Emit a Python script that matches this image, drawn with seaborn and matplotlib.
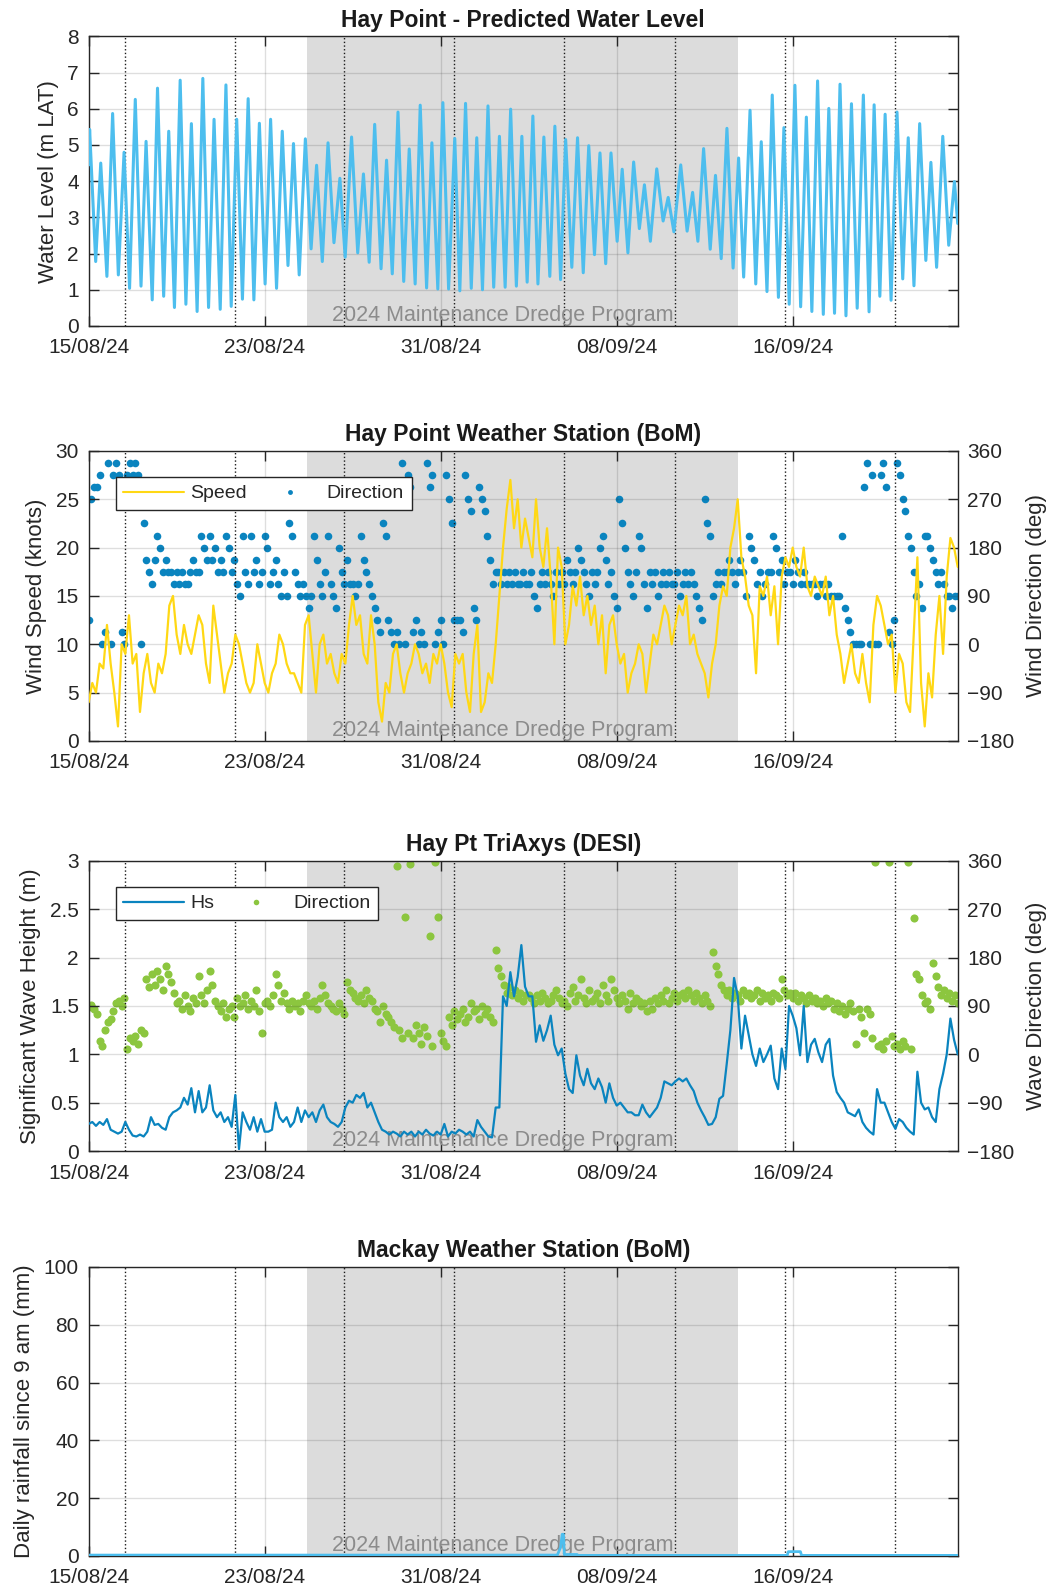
import numpy as np
import pandas as pd
import seaborn as sns
import matplotlib.pyplot as plt
import matplotlib.dates as mdates
from matplotlib.lines import Line2D
from matplotlib.ticker import FormatStrFormatter

# ---- time frame ----
start = pd.Timestamp('2024-08-15 00:00')
end = start + pd.Timedelta(days=39.5)
dredge_start = start + pd.Timedelta(days=9.93)
dredge_end = start + pd.Timedelta(days=29.5)
event_days = [1.65, 6.65, 11.62, 16.62, 21.62, 26.63, 31.64, 36.64]
tick_dates = ['2024-08-15', '2024-08-23', '2024-08-31', '2024-09-08', '2024-09-16']

# ---- predicted water level: high / low waters (days since 15/08, m LAT) ----
tide_day = [0.0, 0.045, 0.32, 0.55, 0.83, 1.09, 1.35, 1.61, 1.86, 2.12,
            2.38, 2.61, 2.89, 3.13, 3.41, 3.64, 3.90, 4.16, 4.42, 4.67,
            4.93, 5.19, 5.45, 5.70, 5.98, 6.24, 6.48, 6.73, 6.99, 7.25,
            7.51, 7.76, 8.02, 8.27, 8.54, 8.80, 9.06, 9.31, 9.57, 9.85,
            10.11, 10.36, 10.62, 10.88, 11.15, 11.42, 11.66, 11.95, 12.23, 12.49,
            12.75, 13.00, 13.29, 13.54, 13.80, 14.06, 14.32, 14.57, 14.84, 15.07,
            15.36, 15.60, 15.87, 16.10, 16.36, 16.64, 16.87, 17.13, 17.39, 17.64,
            17.90, 18.15, 18.41, 18.67, 18.93, 19.18, 19.44, 19.69, 19.93, 20.19,
            20.42, 20.69, 20.96, 21.19, 21.45, 21.68, 21.96, 22.22, 22.48, 22.73,
            22.99, 23.24, 23.50, 23.74, 24.02, 24.25, 24.51, 24.77, 25.03, 25.26,
            25.53, 25.82, 26.11, 26.34, 26.60, 26.91, 27.20, 27.45, 27.69, 27.95,
            28.25, 28.49, 28.75, 29.01, 29.29, 29.54, 29.77, 30.06, 30.32, 30.57,
            30.83, 31.07, 31.35, 31.60, 31.84, 32.10, 32.36, 32.62, 32.87, 33.13,
            33.39, 33.64, 33.90, 34.15, 34.42, 34.67, 34.93, 35.21, 35.47, 35.70,
            35.96, 36.20, 36.47, 36.74, 37.00, 37.25, 37.51, 37.77, 38.05, 38.28,
            38.54, 38.82, 39.09, 39.35, 39.50]
tide_level = [4.45, 5.43, 1.78, 4.5, 1.37, 5.87, 1.41, 4.8, 1.04, 6.26,
              1.1, 5.1, 0.72, 6.57, 0.82, 5.38, 0.51, 6.79, 0.6, 5.59,
              0.4, 6.84, 0.51, 5.71, 0.46, 6.66, 0.54, 5.71, 0.74, 6.28,
              0.72, 5.6, 1.16, 5.71, 1.04, 5.38, 1.67, 5.04, 1.41, 5.17,
              2.13, 4.44, 1.78, 5.06, 2.3, 4.08, 1.9, 5.22, 2.02, 4.2,
              1.76, 5.57, 1.58, 4.58, 1.44, 5.91, 1.23, 4.89, 1.16, 6.1,
              1.05, 5.06, 1.02, 6.17, 1.02, 5.18, 0.97, 6.15, 1.04, 5.2,
              1.0, 6.08, 1.07, 5.24, 1.07, 5.99, 1.1, 5.24, 1.21, 5.8,
              1.16, 5.22, 1.37, 5.52, 1.28, 5.15, 1.62, 5.2, 1.47, 4.98,
              1.97, 4.78, 1.72, 4.78, 2.34, 4.33, 2.02, 4.53, 2.69, 3.9,
              2.34, 4.34, 2.9, 3.55, 2.6, 4.45, 2.62, 3.69, 2.34, 4.9,
              2.12, 4.16, 1.86, 5.46, 1.6, 4.64, 1.35, 5.96, 1.16, 5.09,
              0.95, 6.38, 0.79, 5.48, 0.6, 6.65, 0.53, 5.77, 0.4, 6.77,
              0.32, 6.01, 0.35, 6.68, 0.28, 6.14, 0.49, 6.38, 0.39, 6.11,
              0.82, 5.85, 0.71, 5.91, 1.3, 5.2, 1.11, 5.59, 1.81, 4.52,
              1.62, 5.24, 2.23, 3.99, 2.83]

# ---- wind speed (knots), 4-hourly ----
wind_speed = [4, 6, 5, 8, 7.5, 12,   8, 5, 1.5, 10, 9, 13,   8, 9, 3, 7, 9, 6,
              5, 8, 7, 9, 14, 15,   11, 9, 12, 10, 9, 11,   13, 12, 8, 6, 14, 11,
              8, 5, 7, 8, 11, 10,   8, 6, 5, 6, 10, 8,   6, 5, 7, 8, 11, 10,
              8, 7, 7, 6, 5, 12,   13, 9, 5, 10, 11, 8,   9, 7, 6, 9, 8, 12,
              15, 12, 13, 9, 8, 13,   10, 4, 2, 6, 5, 9,   10, 7, 5, 7, 8, 10,
              9, 7, 8, 6, 9, 8,   10, 8, 5, 3.5, 9, 8,   9, 5, 3, 9, 12, 3,
              4, 7, 6, 10, 15, 20,   24, 27, 22, 25, 20, 23,   21, 19, 25, 20, 18, 22,
              17, 10, 20, 18, 10, 12,   16, 14, 17, 13, 15, 12,   14, 10, 13, 7, 12, 13,
              10, 8, 9, 5, 7, 8,   10, 9, 5, 8, 11, 10,   12, 14, 13, 10, 12, 14,
              13, 15, 10, 11, 9, 8,   7, 4.5, 8, 10, 14, 16,   15, 20, 22, 25, 19, 17,
              14, 13, 7, 16, 15, 17,   13, 16, 10, 17, 19, 18,   20, 18, 17, 20, 16, 15,
              17, 16, 15, 17, 13, 15,   11, 9, 6, 8, 10, 7,   6, 9, 6, 4, 12, 15,
              14, 12, 10, 11, 5, 9,   8, 4, 3, 11, 19, 6,   1.5, 7, 4.5, 11, 15, 9,
              17, 21, 20, 18]

# ---- wind direction (deg), 3-hourly ----
wind_dir = [45, 270, 292.5, 292.5, 315, 0, 22.5, 337.5,
            0, 315, 337.5, 315, 22.5, 0, 315, 337.5,
            315, 337.5, 315, 0, 225, 157.5, 135, 112.5,
            157.5, 202.5, 180, 135, 157.5, 135, 135, 112.5,
            135, 112.5, 135, 112.5, 112.5, 135, 157.5, 135,
            135, 202.5, 180, 157.5, 202.5, 157.5, 180, 135,
            157.5, 135, 202.5, 180, 135, 157.5, 112.5, 90,
            202.5, 135, 112.5, 202.5, 135, 157.5, 112.5, 135,
            202.5, 180, 112.5, 135, 157.5, 112.5, 90, 135,
            90, 225, 202.5, 135, 112.5, 90, 112.5, 90,
            67.5, 90, 202.5, 157.5, 112.5, 90, 135, 202.5,
            112.5, 90, 67.5, 180, 135, 112.5, 157.5, 112.5,
            112.5, 90, 112.5, 202.5, 157.5, 135, 112.5, 90,
            67.5, 45, 22.5, 225, 202.5, 45, 22.5, 0,
            22.5, 0, 337.5, 0, 315, 292.5, 22.5, 45,
            0, 22.5, 0, 337.5, 292.5, 315, 0, 22.5,
            45, 0, 315, 270, 225, 45, 45, 45,
            22.5, 315, 270, 247.5, 67.5, 45, 292.5, 270,
            247.5, 202.5, 157.5, 112.5, 135, 135, 112.5, 135,
            112.5, 135, 112.5, 135, 112.5, 112.5, 135, 112.5,
            112.5, 135, 90, 67.5, 112.5, 135, 112.5, 135,
            112.5, 90, 135, 112.5, 135, 112.5, 157.5, 135,
            112.5, 135, 180, 157.5, 135, 112.5, 90, 135,
            112.5, 135, 180, 202.5, 157.5, 112.5, 135, 90,
            67.5, 270, 225, 180, 135, 112.5, 90, 135,
            202.5, 180, 112.5, 67.5, 135, 112.5, 135, 90,
            112.5, 135, 112.5, 135, 112.5, 112.5, 135, 90,
            112.5, 135, 112.5, 135, 112.5, 90, 67.5, 45,
            270, 225, 202.5, 90, 112.5, 135, 112.5, 135,
            135, 157.5, 135, 112.5, 135, 157.5, 135, 90,
            202.5, 180, 157.5, 112.5, 135, 90, 112.5, 135,
            135, 202.5, 180, 135, 157.5, 112.5, 135, 135,
            112.5, 157.5, 135, 112.5, 135, 112.5, 112.5, 112.5,
            112.5, 90, 112.5, 112.5, 90, 112.5, 90, 90,
            90, 90, 202.5, 67.5, 45, 22.5, 0, 0,
            0, 0, 292.5, 337.5, 0, 315, 0, 0,
            315, 337.5, 292.5, 22.5, 0, 45, 337.5, 315,
            270, 247.5, 202.5, 180, 135, 90, 112.5, 67.5,
            202.5, 202.5, 180, 157.5, 135, 112.5, 135, 112.5,
            90, 90, 67.5, 90, 90]

# ---- significant wave height (m), 4-hourly ----
wave_hs = [0.28, 0.3, 0.26, 0.3, 0.27, 0.33,   0.22, 0.2, 0.18, 0.2, 0.3, 0.22,
           0.16, 0.15, 0.17, 0.15, 0.2, 0.35,   0.27, 0.28, 0.24, 0.22, 0.35, 0.4,
           0.42, 0.45, 0.55, 0.48, 0.65, 0.4,   0.62, 0.4, 0.45, 0.68, 0.42, 0.35,
           0.4, 0.3, 0.35, 0.25, 0.58, 0.02,   0.4, 0.3, 0.22, 0.35, 0.2, 0.33,
           0.2, 0.2, 0.22, 0.5, 0.35, 0.3,   0.35, 0.25, 0.3, 0.45, 0.3, 0.42,
           0.35, 0.4, 0.3, 0.42, 0.48, 0.35,   0.3, 0.28, 0.25, 0.3, 0.45, 0.52,
           0.5, 0.58, 0.55, 0.6, 0.45, 0.5,   0.4, 0.3, 0.22, 0.2, 0.17, 0.2,
           0.18, 0.15, 0.2, 0.17, 0.2, 0.15,   0.2, 0.17, 0.22, 0.18, 0.16, 0.2,
           0.17, 0.28, 0.15, 0.2, 0.18, 0.22,   0.2, 0.17, 0.2, 0.15, 0.32, 0.25,
           0.2, 0.15, 0.14, 0.45, 0.45, 1.6,   1.5, 1.85, 1.6, 1.8, 2.13, 1.7,
           1.6, 1.6, 1.13, 1.3, 1.14, 1.25,   1.4, 1.1, 0.99, 1.06, 0.8, 0.64,
           0.6, 0.99, 0.78, 0.68, 0.85, 0.7,   0.64, 0.75, 0.66, 0.5, 0.7, 0.55,
           0.47, 0.5, 0.45, 0.4, 0.4, 0.37,   0.37, 0.48, 0.4, 0.35, 0.4, 0.45,
           0.55, 0.72, 0.7, 0.68, 0.72, 0.75,   0.72, 0.75, 0.68, 0.62, 0.5, 0.42,
           0.35, 0.27, 0.28, 0.35, 0.54, 0.57,   0.9, 1.25, 1.79, 1.6, 1.06, 1.4,
           1.2, 1.0, 0.88, 1.06, 0.92, 1.0,   1.09, 0.75, 0.64, 1.06, 0.85, 1.5,
           1.4, 1.27, 0.99, 1.5, 0.92, 1.1,   1.16, 1.02, 0.92, 1.1, 1.16, 0.78,
           0.61, 0.55, 0.5, 0.4, 0.38, 0.36,   0.43, 0.3, 0.24, 0.2, 0.17, 0.64,
           0.5, 0.5, 0.4, 0.3, 0.23, 0.33,   0.3, 0.24, 0.2, 0.17, 0.82, 0.5,
           0.43, 0.45, 0.35, 0.3, 0.64, 0.8,   1.0, 1.37, 1.15, 1.0]

# ---- wave direction (deg), 3-hourly ----
wave_dir = [88, 92, 85, 75, 25, 15, 45, 60,
            65, 80, 95, 100, 90, 105, 10, 30,
            25, 35, 20, 45, 40, 140, 125, 150,
            130, 155, 140, 120, 165, 150, 135, 115,
            95, 100, 85, 110, 90, 80, 105, 95,
            145, 110, 95, 120, 155, 130, 100, 90,
            80, 95, 70, 85, 90, 70, 105, 90,
            95, 110, 85, 100, 90, 120, 80, 40,
            95, 100, 90, 110, 150, 130, 100, 115,
            95, 85, 100, 90, 95, 80, 100, 110,
            95, 90, 100, 85, 105, 130, 110, 95,
            90, 85, 80, 95, 85, 75, 135, 120,
            115, 105, 100, 110, 95, 120, 105, 100,
            85, 80, 60, 90, 75, 70, 60, 50,
            350, 45, 30, 255, 40, 355, 30, 55,
            40, 20, 50, 35, 220, 15, 358, 255,
            40, 25, 15, 70, 55, 80, 65, 75,
            85, 60, 70, 95, 80, 85, 65, 90,
            75, 85, 70, 60, 195, 160, 145, 130,
            115, 125, 110, 120, 105, 115, 100, 110,
            110, 105, 95, 110, 100, 115, 105, 95,
            100, 110, 120, 105, 95, 100, 90, 115,
            125, 100, 110, 140, 105, 95, 120, 100,
            105, 115, 95, 130, 110, 100, 140, 120,
            105, 95, 110, 100, 85, 115, 95, 105,
            100, 90, 95, 80, 100, 85, 105, 95,
            110, 100, 120, 95, 105, 115, 100, 110,
            115, 105, 120, 110, 100, 115, 105, 95,
            110, 100, 90, 190, 165, 150, 130, 120,
            110, 120, 105, 115, 110, 100, 120, 110,
            115, 105, 110, 120, 100, 115, 105, 110,
            100, 115, 110, 105, 140, 120, 110, 115,
            105, 115, 100, 110, 105, 95, 110, 100,
            105, 95, 100, 90, 105, 95, 100, 85,
            95, 80, 90, 75, 85, 95, 80, 20,
            85, 70, 40, 85, 75, 30, 358, 15,
            20, 10, 25, 358, 35, 15, 20, 10,
            25, 15, 358, 10, 254, 150, 140, 110,
            95, 100, 85, 170, 145, 125, 110, 120,
            105, 115, 100, 110, 95]

# ---- Mackay daily rainfall since 9 am (mm) ----
rain_day = [0.0, 21.30, 21.45, 21.52, 21.58, 21.62, 22.20, 22.25,
            31.75, 31.80, 32.35, 32.40, 39.50]
rain_mm = [0.3, 0.3, 3.0, 7.5, 7.5, 0.5, 0.5, 0.2,
           0.2, 1.5, 1.5, 0.2, 0.2]

# ---- colours ----
c_tide = '#4DBEEE'
c_speed = '#FFD814'
c_wdir = '#0A84BF'
c_hs = '#0A84BF'
c_wave = '#8CC63F'
c_axis = '#262626'

tide_time = start + pd.to_timedelta(tide_day, unit='D')
wind_time = pd.date_range(start, periods=len(wind_speed), freq='4h')
wdir_time = pd.date_range(start, periods=len(wind_dir), freq='3h')
hs_time = pd.date_range(start, periods=len(wave_hs), freq='4h')
wave_time = pd.date_range(start, periods=len(wave_dir), freq='3h')
rain_time = start + pd.to_timedelta(rain_day, unit='D')

sns.set_theme(style='white')
plt.rcParams['font.family'] = ['Liberation Sans', 'DejaVu Sans']

fig = plt.figure(figsize=(10.49, 15.9), dpi=100)
left, width = 0.0845, 0.8285
ax1 = fig.add_axes([left, 0.7950, width, 0.1821])
ax2 = fig.add_axes([left, 0.5340, width, 0.1824])
ax3 = fig.add_axes([left, 0.2761, width, 0.1824])
ax4 = fig.add_axes([left, 0.0214, width, 0.1818])


def shade(ax):
    ax.axvspan(dredge_start, dredge_end, color='#dcdcdc', lw=0, zorder=0.2)


def decorate(ax, title, ylabel, ylim, yticks, mirror):
    for d in event_days:
        ax.axvline(start + pd.Timedelta(days=d), color='k', ls=':', lw=1, zorder=1.5)
    ax.text(start + pd.Timedelta(days=18.84), 0.018, '2024 Maintenance Dredge Program',
            transform=ax.get_xaxis_transform(), ha='center', va='baseline',
            color='#8c8c8c', fontsize=15.5, zorder=1.6)
    ax.set_xlim(start, end)
    ax.set_xticks(pd.to_datetime(tick_dates))
    ax.xaxis.set_major_formatter(mdates.DateFormatter('%d/%m/%y'))
    ax.set_ylim(*ylim)
    ax.set_yticks(yticks)
    ax.yaxis.set_major_formatter(FormatStrFormatter('%g'))
    ax.set_axisbelow(True)
    ax.grid(True, color=c_axis, alpha=0.15, lw=1)
    ax.tick_params(axis='x', direction='in', length=7, width=1, colors=c_axis,
                   labelsize=15, top=True, bottom=True, pad=9)
    ax.tick_params(axis='y', direction='in', length=7, width=1, colors=c_axis,
                   labelsize=15, left=True, right=mirror, pad=7)
    ax.set_title(title, fontsize=16.5, fontweight='bold', pad=7, color='k')
    ax.set_xlabel('')
    ax.set_ylabel(ylabel, fontsize=16, color=c_axis, labelpad=6)
    for s in ax.spines.values():
        s.set_color(c_axis)
        s.set_linewidth(1)


def right_axis(ax, ylabel):
    ax.set_ylim(-180, 360)
    ax.set_yticks(np.arange(-180, 361, 90))
    ax.tick_params(axis='y', direction='in', length=7, width=1, colors=c_axis,
                   labelsize=15, right=True, left=False, pad=7)
    ax.set_ylabel(ylabel, fontsize=16, color=c_axis, labelpad=8)
    for s in ax.spines.values():
        s.set_visible(False)


def stack_on_top(ax, axr):
    # left axis (line) above right axis (dots); shading lives on the lower one
    axr.set_zorder(ax.get_zorder())
    ax.set_zorder(axr.get_zorder() + 1)
    ax.patch.set_visible(False)
    axr.patch.set_visible(True)
    axr.patch.set_facecolor('white')


# Panel 1: predicted water level
shade(ax1)
sns.lineplot(x=tide_time, y=tide_level, ax=ax1, color=c_tide, lw=2.2,
             solid_joinstyle='round', zorder=3)
decorate(ax1, 'Hay Point - Predicted Water Level', 'Water Level (m LAT)',
         (0, 8), np.arange(0, 9, 1), True)

# Panel 2: wind speed / direction
ax2r = ax2.twinx()
stack_on_top(ax2, ax2r)
shade(ax2r)
sns.scatterplot(x=wdir_time, y=wind_dir, ax=ax2r, color=c_wdir, s=30,
                linewidth=0, legend=False, zorder=3)
sns.lineplot(x=wind_time, y=wind_speed, ax=ax2, color=c_speed, lw=1.6, zorder=3)
decorate(ax2, 'Hay Point Weather Station (BoM)', 'Wind Speed (knots)',
         (0, 30), np.arange(0, 31, 5), False)
right_axis(ax2r, 'Wind Direction (deg)')
h2 = [Line2D([], [], color=c_speed, lw=1.5),
      Line2D([], [], color=c_wdir, ls='', marker='o', ms=3.5, mew=0)]
lg2 = ax2.legend(h2, ['Speed', 'Direction'], loc='upper left',
                 bbox_to_anchor=(0.031, 0.910), ncol=2, fancybox=False,
                 framealpha=1, edgecolor=c_axis, fontsize=14, handlelength=3.1,
                 handletextpad=0.35, columnspacing=0.65, borderaxespad=0)
lg2.get_frame().set_linewidth(1)
lg2.set_zorder(10)

# Panel 3: waves
ax3r = ax3.twinx()
stack_on_top(ax3, ax3r)
shade(ax3r)
sns.scatterplot(x=wave_time, y=wave_dir, ax=ax3r, color=c_wave, s=34,
                linewidth=0, legend=False, zorder=3)
sns.lineplot(x=hs_time, y=wave_hs, ax=ax3, color=c_hs, lw=1.6, zorder=3)
decorate(ax3, 'Hay Pt TriAxys (DESI)', 'Significant Wave Height (m)',
         (0, 3), np.arange(0, 3.01, 0.5), False)
right_axis(ax3r, 'Wave Direction (deg)')
h3 = [Line2D([], [], color=c_hs, lw=1.6),
      Line2D([], [], color=c_wave, ls='', marker='o', ms=4, mew=0)]
lg3 = ax3.legend(h3, ['Hs', 'Direction'], loc='upper left',
                 bbox_to_anchor=(0.031, 0.910), ncol=2, fancybox=False,
                 framealpha=1, edgecolor=c_axis, fontsize=14, handlelength=3.1,
                 handletextpad=0.35, columnspacing=0.6, borderaxespad=0)
lg3.get_frame().set_linewidth(1)
lg3.set_zorder(10)

# Panel 4: rainfall
shade(ax4)
sns.lineplot(x=rain_time, y=rain_mm, ax=ax4, color=c_tide, lw=2, zorder=3)
decorate(ax4, 'Mackay Weather Station (BoM)', 'Daily rainfall since 9 am (mm)',
         (0, 100), np.arange(0, 101, 20), True)

fig.savefig('out.png', dpi=100)
